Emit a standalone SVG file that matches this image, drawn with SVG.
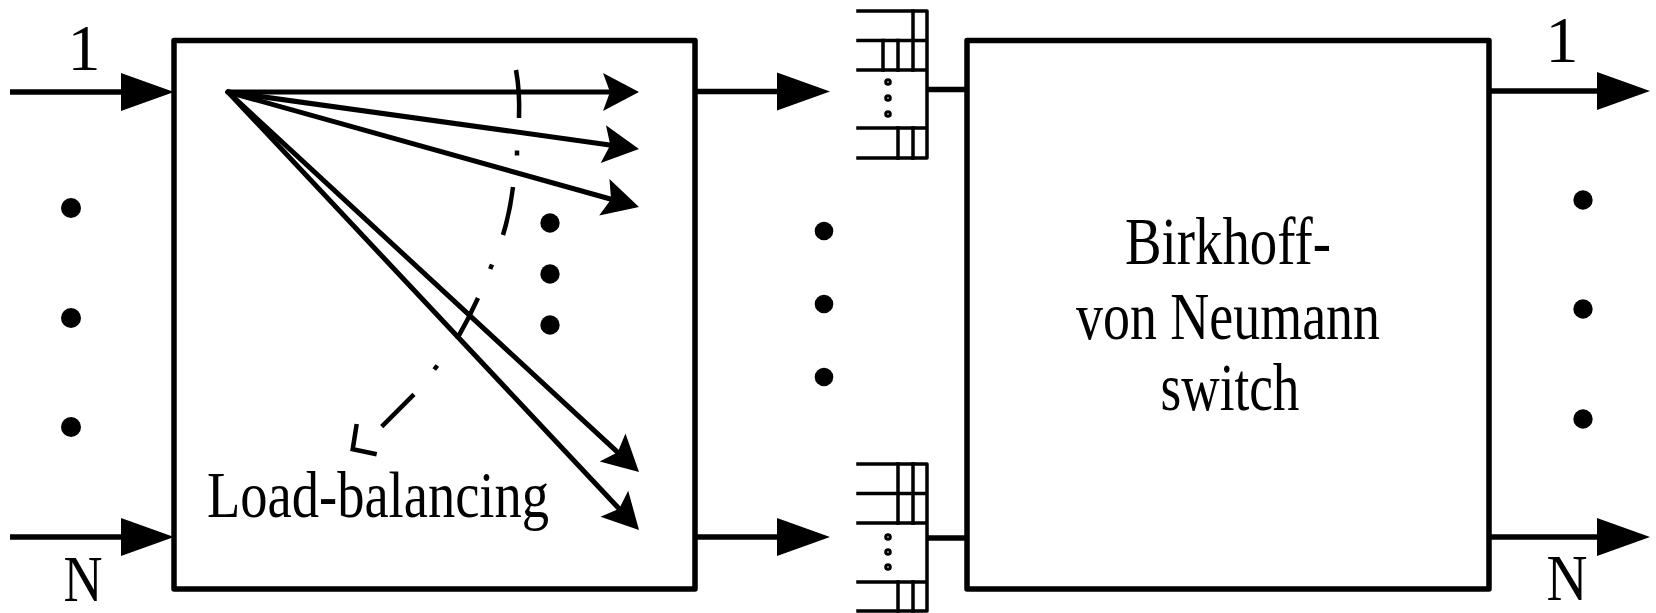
<svg xmlns="http://www.w3.org/2000/svg" width="1656" height="613" viewBox="0 0 1656 613">
<style>
  .box { fill: none; stroke: #000; stroke-width: 5.5; stroke-linejoin: round; }
  .ln { fill: none; stroke: #000; stroke-width: 5.5; }
  .fan { fill: none; stroke: #000; stroke-width: 5; stroke-linecap: round; }
  .q { fill: none; stroke: #000; stroke-width: 3.5; stroke-linecap: square; stroke-linejoin: round; }
  .qdot { fill: #fff; stroke: #000; stroke-width: 3; }
  .dot { fill: #000; }
  .dash { fill: none; stroke: #000; stroke-width: 4.5; stroke-linecap: butt; stroke-linejoin: miter; }
  .txt { font-family: "Liberation Serif", "Times New Roman", serif; font-size: 66px; fill: #000; }
  .big { font-size: 68px; }
</style>
<defs>
  <marker id="bigArrow" markerUnits="userSpaceOnUse" markerWidth="54" markerHeight="38" refX="5" refY="19" orient="auto" overflow="visible">
    <path d="M0,0 L53,19 L0,38 Z" fill="#000"/>
  </marker>
  <marker id="smallArrow" markerUnits="userSpaceOnUse" markerWidth="37" markerHeight="38" refX="10" refY="19" orient="auto" overflow="visible">
    <path d="M36,19 L0,0 L7,19 L0,38 Z" fill="#000"/>
  </marker>
</defs>

<!-- Load-balancing stage -->
<g id="load-balancing">
  <rect class="box" x="174" y="40.5" width="521" height="548.5"/>
  <text class="txt" x="207" y="517" textLength="342" lengthAdjust="spacingAndGlyphs">Load-balancing</text>
  <circle class="dot" cx="550" cy="223" r="9.7"/>
  <circle class="dot" cx="550" cy="274" r="9.7"/>
  <circle class="dot" cx="550" cy="325" r="9.7"/>
</g>

<!-- Birkhoff-von Neumann switch -->
<g id="bvn-switch">
  <rect class="box" x="967" y="40.5" width="522" height="548.5"/>
  <text class="txt big" x="1228" y="264" text-anchor="middle" textLength="206" lengthAdjust="spacingAndGlyphs">Birkhoff-</text>
  <text class="txt big" x="1228" y="339" text-anchor="middle" textLength="304" lengthAdjust="spacingAndGlyphs">von Neumann</text>
  <text class="txt big" x="1230" y="410" text-anchor="middle" textLength="139" lengthAdjust="spacingAndGlyphs">switch</text>
</g>

<!-- Virtual output queues -->
<g id="queue-1">
  <path class="q" d="M858,11 H927 V158 H858 M858,40.5 H927 M858,70 H927 M858,128 H927"/>
  <path class="q" d="M913,11 V40.5 M883,40.5 V70 M898,40.5 V70 M913,40.5 V70 M898,128 V158 M913,128 V158"/>
  <circle class="qdot" cx="888" cy="82" r="2.3"/>
  <circle class="qdot" cx="888" cy="98" r="2.3"/>
  <circle class="qdot" cx="888" cy="114" r="2.3"/>
</g>
<g id="queue-N">
  <path class="q" d="M858,464 H927 V611 H858 M858,493.5 H927 M858,523 H927 M858,582 H927"/>
  <path class="q" d="M898,464 V523 M913,464 V523 M898,582 V611 M913,582 V611"/>
  <circle class="qdot" cx="888" cy="537" r="2.3"/>
  <circle class="qdot" cx="888" cy="552" r="2.3"/>
  <circle class="qdot" cx="888" cy="567" r="2.3"/>
</g>

<!-- Port labels and ellipses -->
<g id="inputs">
  <text class="txt" x="84" y="70" text-anchor="middle">1</text>
  <text class="txt" x="83" y="601" text-anchor="middle" textLength="39" lengthAdjust="spacingAndGlyphs">N</text>
  <circle class="dot" cx="71" cy="208" r="10"/>
  <circle class="dot" cx="71" cy="318" r="10"/>
  <circle class="dot" cx="71" cy="427" r="10"/>
</g>
<g id="middle-dots">
  <circle class="dot" cx="824" cy="231" r="9.3"/>
  <circle class="dot" cx="824" cy="304" r="9.3"/>
  <circle class="dot" cx="824" cy="377" r="9.3"/>
</g>
<g id="outputs">
  <text class="txt" x="1562" y="62" text-anchor="middle">1</text>
  <text class="txt" x="1567" y="600" text-anchor="middle" textLength="41" lengthAdjust="spacingAndGlyphs">N</text>
  <circle class="dot" cx="1583" cy="200" r="9.7"/>
  <circle class="dot" cx="1583" cy="309" r="9.7"/>
  <circle class="dot" cx="1583" cy="419" r="9.7"/>
</g>

<!-- Connectors -->
<g id="connectors">
  <line class="ln" x1="10" y1="92" x2="126" y2="92" marker-end="url(#bigArrow)"/>
  <line class="ln" x1="10" y1="537" x2="126" y2="537" marker-end="url(#bigArrow)"/>
  <line class="ln" x1="695" y1="91.5" x2="782" y2="91.5" marker-end="url(#bigArrow)"/>
  <line class="ln" x1="695" y1="537" x2="782" y2="537" marker-end="url(#bigArrow)"/>
  <line class="ln" x1="927" y1="89.5" x2="967" y2="89.5"/>
  <line class="ln" x1="927" y1="538" x2="967" y2="538"/>
  <line class="ln" x1="1489" y1="91" x2="1602" y2="91" marker-end="url(#bigArrow)"/>
  <line class="ln" x1="1489" y1="537" x2="1602" y2="537" marker-end="url(#bigArrow)"/>
  <!-- fan-out inside load-balancer -->
  <line class="fan" x1="228" y1="92" x2="613" y2="92" marker-end="url(#smallArrow)"/>
  <line class="fan" x1="228" y1="92" x2="613.24" y2="145.43" marker-end="url(#smallArrow)"/>
  <line class="fan" x1="228" y1="92" x2="613.96" y2="200" marker-end="url(#smallArrow)"/>
  <line class="fan" x1="228" y1="92" x2="619.91" y2="454.35" marker-end="url(#smallArrow)"/>
  <line class="fan" x1="228" y1="92" x2="621.21" y2="511.04" marker-end="url(#smallArrow)"/>
  <!-- dash-dot rotation arrow -->
  <path class="dash" d="M516,70 Q520,92 519,118"/>
  <path class="dash" d="M517,150.5 L517,155.5"/>
  <path class="dash" d="M513,187 Q510,212 503,235"/>
  <path class="dash" d="M492,264.5 L490.2,269"/>
  <path class="dash" d="M478,298 Q468,320 457,339"/>
  <path class="dash" d="M437.3,365.5 L434.3,369.5"/>
  <path class="dash" d="M414,394.3 L381.7,426.7"/>
  <path class="dash" d="M356.7,424 L352.7,449.3 L376.7,454.3"/>
</g>
</svg>
